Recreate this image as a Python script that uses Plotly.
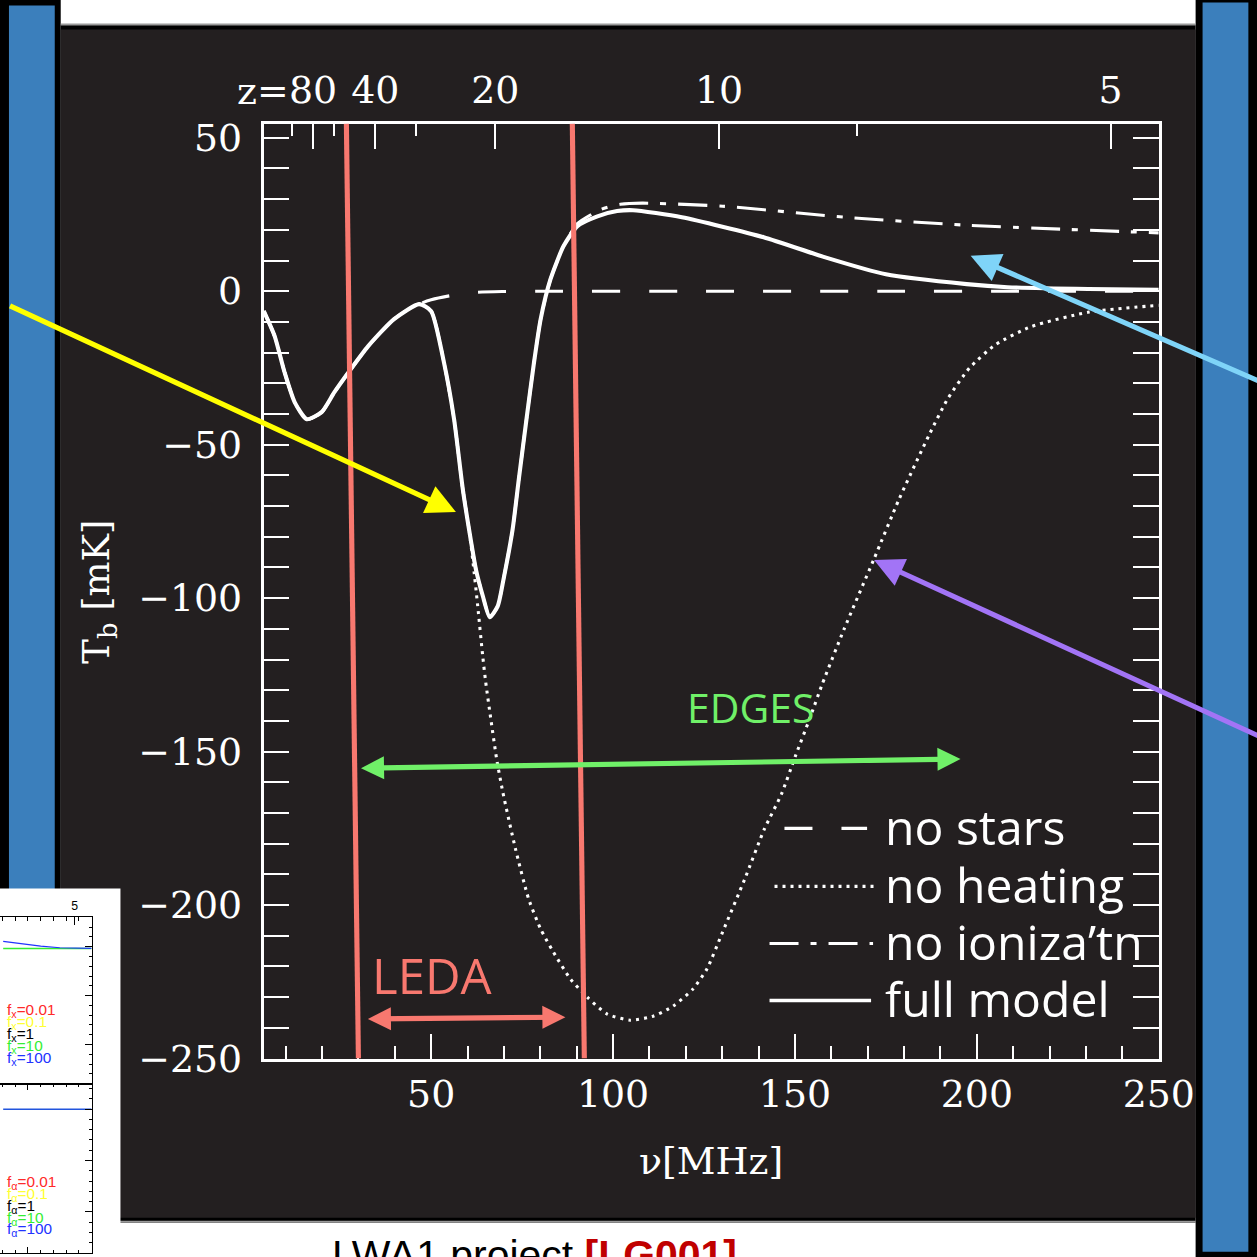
import plotly.graph_objects as go

REF = 1257              # design grid of the slide, in pixels
S = 1300                # rendered figure size
K = 1287 / REF          # scale from design grid to rendered pixels
DX, DY = 3.0, -7.5      # placement of the design grid inside the figure
NU21 = 1420.4           # rest frequency of the 21-cm line [MHz]

# ---- global 21-cm signal models: frequency [MHz] vs brightness temperature [mK]
nu_full = [4.0, 7.0, 9.7, 12.5, 15.8, 19.9, 23.4, 27.3, 32.7, 39.8, 46.7, 50.0,
           53.5, 56.3, 58.7, 60.4, 62.3, 64.2, 66.1, 68.3, 69.9, 72.4, 74.1, 76.2,
           78.2, 80.1, 82.8, 86.4, 90.2, 95.7, 101.1, 105.5, 118.9, 141.4, 158.1,
           175.0, 197.2, 208.4, 230.6, 250.0]
tb_full = [-6.5, -14.7, -26.4, -36.2, -41.7, -39.4, -32.9, -26.4, -17.9, -9.1, -4.2, -6.5,
           -23.1, -41.7, -64.5, -77.5, -90.6, -99.3, -106.2, -102.6, -93.8, -77.5, -61.2, -41.7,
           -23.8, -9.1, 3.9, 14.7, 21.2, 24.4, 26.1, 26.4, 24.1, 17.6, 11.1,
           5.5, 2.3, 1.3, 0.7, 0.5]

nu_nostars = [4.0, 7.0, 9.7, 12.5, 15.8, 19.9, 23.4, 27.3, 32.7, 39.8, 46.7, 50.0,
              54.6, 61.7, 70.0, 80.0, 120.0, 180.0, 250.0]
tb_nostars = [-6.5, -14.7, -26.4, -36.2, -41.7, -39.4, -32.9, -26.4, -17.9, -9.1, -4.2, -2.8,
              -1.6, -0.4, -0.1, 0.0, 0.0, 0.0, 0.0]

nu_noheat = [4.0, 7.0, 9.7, 12.5, 15.8, 19.9, 23.4, 27.3, 32.7, 39.8, 46.7, 50.0,
             53.5, 56.3, 58.7, 60.4, 61.5, 62.8, 64.2, 65.0, 66.4, 68.0, 69.7, 73.2,
             76.8, 80.1, 83.6, 88.3, 92.9, 98.4, 104.7, 111.0, 116.5, 121.9, 125.8,
             130.1, 136.2, 141.6, 146.3, 150.1, 154.0, 157.5, 163.5, 171.7, 178.6,
             186.8, 192.0, 198.0, 205.0, 215.0, 230.8, 250.0]
tb_noheat = [-6.5, -14.7, -26.4, -36.2, -41.7, -39.4, -32.9, -26.4, -17.9, -9.1, -4.2, -6.5,
             -23.1, -41.7, -64.5, -77.5, -88.3, -102.6, -119.2, -127.4, -139.4, -152.4, -163.2, -181.8,
             -198.0, -207.8, -215.3, -224.1, -230.0, -235.5, -237.5, -236.2, -232.9, -227.4, -220.8,
             -208.8, -191.5, -175.2, -163.8, -151.5, -139.4, -128.0, -110.1, -87.3, -67.8,
             -47.0, -35.0, -25.0, -17.5, -11.5, -6.8, -4.6]

nu_noion = [4.0, 7.0, 9.7, 12.5, 15.8, 19.9, 23.4, 27.3, 32.7, 39.8, 46.7, 50.0,
            53.5, 56.3, 58.7, 60.4, 62.3, 64.2, 66.1, 68.3, 69.9, 72.4, 74.1, 76.2,
            78.2, 80.1, 82.8, 86.4, 90.2, 96.8, 102.0, 108.0, 130.1, 163.8, 197.2, 250.0]
tb_noion = [-6.5, -14.7, -26.4, -36.2, -41.7, -39.4, -32.9, -26.4, -17.9, -9.1, -4.2, -6.5,
            -23.1, -41.7, -64.5, -77.5, -90.6, -99.3, -106.2, -102.6, -93.8, -77.5, -61.2, -41.7,
            -23.8, -9.1, 3.9, 14.7, 22.0, 26.7, 28.3, 28.7, 27.7, 24.1, 21.5, 19.0]

# ---- redshift ticks for the top axis
z_major = [80, 40, 20, 10, 5]
z_major_text = ["80", "40", "20", "10", "5"]
z_minor = [120, 60, 30, 15, 7.5]

# ---- experiment bands (MHz) and their arrows
leda_line_top = [26.7, 88.8]
leda_line_bottom = [30.0, 92.1]
edges_arrow_nu = [30.3, 195.5]
edges_arrow_tb = [-155.4, -152.4]
leda_arrow_nu = [32.2, 86.9]
leda_arrow_tb = [-237.1, -236.5]

# ---- small inset panels (parameter scans)
inset_nu = [180.5, 195.0, 210.0, 225.0, 240.0, 250.0]
inset_fx_green = [-1.8, -1.8, -1.8, -1.8, -1.8, -1.8]
inset_fx_blue = [5.5, 3.2, 0.6, -1.0, -1.5, -1.6]
inset_fa_blue = [0.0, 0.0, 0.0, 0.0, 0.0, 0.0]
fx_labels = ["0.01", "0.1", "1", "10", "100"]
fx_colors = ["#ff2a2a", "#ffff33", "#000000", "#33ee33", "#2233ff"]


def nu_of_z(zs):
    return [NU21 / (1.0 + z) for z in zs]


def px(x):
    return (x + DX) * K / S


def py(y):
    return 1 - (y + DY) * K / S


def k(v):
    return v * K


def ki(v):
    return int(round(v * K))


DARK = "#231f20"
WHITE = "#ffffff"
SALMON = "#f8786f"
GREEN = "#70f068"
BLUE_BAR = "#3b7fbc"
SERIF = "DejaVu Serif"
SANS = "Open Sans"

fig = go.Figure()

fig.add_trace(go.Scatter(x=nu_nostars, y=tb_nostars, mode="lines", name="no stars",
                         line=dict(color=WHITE, width=k(3), dash="28px,29px",
                                   shape="spline", smoothing=0.6)))
fig.add_trace(go.Scatter(x=nu_noheat, y=tb_noheat, mode="lines", name="no heating",
                         line=dict(color=WHITE, width=k(3), dash="3px,5px",
                                   shape="spline", smoothing=0.6)))
fig.add_trace(go.Scatter(x=nu_noion, y=tb_noion, mode="lines", name="no ioniza'tn",
                         line=dict(color=WHITE, width=k(3), dash="29px,12px,6px,12px",
                                   shape="spline", smoothing=0.6)))
fig.add_trace(go.Scatter(x=nu_full, y=tb_full, mode="lines", name="full model",
                         line=dict(color=WHITE, width=k(4), shape="spline", smoothing=0.6)))
# carrier for the redshift axis
fig.add_trace(go.Scatter(x=nu_of_z(z_major), y=[None] * len(z_major), xaxis="x2", yaxis="y",
                         mode="markers", hoverinfo="skip", showlegend=False))

# inset panels
fig.add_trace(go.Scatter(x=inset_nu, y=inset_fx_green, xaxis="x3", yaxis="y3", mode="lines",
                         line=dict(color="#33ee33", width=1.5), showlegend=False))
fig.add_trace(go.Scatter(x=inset_nu, y=inset_fx_blue, xaxis="x3", yaxis="y3", mode="lines",
                         line=dict(color="#2233ff", width=1.2), showlegend=False))
fig.add_trace(go.Scatter(x=inset_nu, y=inset_fa_blue, xaxis="x4", yaxis="y4", mode="lines",
                         line=dict(color="#2255dd", width=1.5), showlegend=False))

tickfont = dict(family=SERIF, size=k(37), color=WHITE)
axis_common = dict(showgrid=False, zeroline=False, tickcolor=WHITE, tickwidth=k(2),
                   linecolor=WHITE, linewidth=k(3), tickfont=tickfont)
inset_minor = dict(tick0=0, dtick=10, ticklen=k(3), ticks="inside", tickcolor="black")
inset_common = dict(showgrid=False, zeroline=False, linecolor="black", linewidth=1,
                    tickcolor="black", tickwidth=1, showline=True, ticks="inside")

fig.update_layout(
    width=S, height=S,
    margin=dict(l=0, r=0, t=0, b=0),
    paper_bgcolor=WHITE,
    plot_bgcolor="rgba(0,0,0,0)",
    showlegend=False,
    xaxis=dict(domain=[px(262), px(1161)], range=[4, 250], anchor="y",
               showline=True, mirror=True, ticks="inside", tickmode="linear",
               tick0=0, dtick=50, ticklen=k(24), ticklabelstandoff=0,
               minor=dict(tick0=0, dtick=10, ticklen=k(12), ticks="inside",
                          tickcolor=WHITE, tickwidth=k(2), showgrid=False),
               **axis_common),
    xaxis2=dict(overlaying="x", side="top", anchor="y", range=[4, 250],
                showline=False, ticks="inside", tickmode="array",
                tickvals=nu_of_z(z_major), ticktext=z_major_text, ticklen=k(25),
                ticklabelstandoff=ki(12),
                minor=dict(tickmode="array", tickvals=nu_of_z(z_minor), ticklen=k(12),
                           ticks="inside", tickcolor=WHITE, tickwidth=k(2), showgrid=False),
                **axis_common),
    yaxis=dict(domain=[py(1058), py(124)], range=[-250, 54.6], anchor="x",
               showline=True, mirror="allticks", ticks="inside", tickmode="linear",
               tick0=0, dtick=50, ticklen=k(25), ticklabelstandoff=ki(11),
               minor=dict(tick0=0, dtick=10, ticklen=k(13), ticks="inside",
                          tickcolor=WHITE, tickwidth=k(2), showgrid=False),
               **axis_common),
    xaxis3=dict(domain=[0, px(89)], range=[178.0, 250], anchor="y3", side="top", mirror=True,
                tickmode="array", tickvals=nu_of_z([5]), ticktext=["5"], ticklen=k(7),
                ticklabelstandoff=2, minor=inset_minor,
                tickfont=dict(family="Liberation Sans", size=k(12), color="black"),
                **inset_common),
    yaxis3=dict(domain=[py(1083), py(917)], range=[-140, 30], anchor="x3", side="right",
                tick0=0, dtick=50, ticklen=k(6), minor=inset_minor,
                showticklabels=False, **inset_common),
    xaxis4=dict(domain=[0, px(89)], range=[178.0, 250], anchor="y4", mirror="allticks",
                tick0=0, dtick=50, ticklen=k(6), minor=inset_minor,
                showticklabels=False, **inset_common),
    yaxis4=dict(domain=[py(1252), py(1083)], range=[-140, 25], anchor="x4", side="right",
                tick0=0, dtick=50, ticklen=k(6), minor=inset_minor,
                showticklabels=False, **inset_common),
)

# ---- slide background: dark panel, side bars, white strips
shapes = []


def rect(x0, y0, x1, y1, color, layer="below"):
    shapes.append(dict(type="rect", xref="paper", yref="paper", layer=layer,
                       x0=px(x0), x1=px(x1), y0=py(y1), y1=py(y0),
                       fillcolor=color, line=dict(width=0)))


rect(-20, -20, 58, 1300, "#000000")
rect(6, 6, 52, 1300, BLUE_BAR)
rect(1198, -20, 1300, 1300, "#000000")
rect(1205, 3, 1251, 1251, BLUE_BAR)
rect(58, 25, 1198, 1222, "#000000")
rect(58, 30, 1198, 1217, DARK)
rect(58, 24, 1198, 26, "#9a9a9a")
rect(58, 1220, 1198, 1222, "#9a9a9a")
rect(-20, 888, 118, 1300, WHITE)

# LEDA band edges
for t, b in zip(leda_line_top, leda_line_bottom):
    shapes.append(dict(type="line", xref="x", yref="y", layer="above",
                       x0=t, y0=54.6, x1=b, y1=-250, line=dict(color=SALMON, width=k(5))))

# legend samples
legend_rows = [("no stars", "28px,29px", 828, 785, 868),
               ("no heating", "3px,5px", 886, 775, 878),
               ("no ioniza’tn", "29px,12px,6px,12px", 943, 770, 874),
               ("full model", "solid", 1000, 770, 872)]
for name, dash, yrow, xa, xb in legend_rows:
    shapes.append(dict(type="line", xref="paper", yref="paper", layer="above",
                       x0=px(xa), x1=px(xb), y0=py(yrow), y1=py(yrow),
                       line=dict(color=WHITE, width=k(3.5) if dash == "solid" else k(3), dash=dash)))

fig.update_layout(shapes=shapes)


def label(x, y, text, font, xanchor="center", yanchor="middle", **kw):
    return dict(xref="paper", yref="paper", x=px(x), y=py(y), text=text,
                xanchor=xanchor, yanchor=yanchor, showarrow=False, font=font, **kw)


ann = []
# axis titles
ann.append(label(97, 592, "T<sub>b</sub> [mK]", dict(family=SERIF, size=k(36), color=WHITE),
                 textangle=-90))
ann.append(label(711, 1160, "ν[MHz]", dict(family=SERIF, size=k(37), color=WHITE)))
ann.append(label(289, 91, "z=", dict(family=SERIF, size=k(37), color=WHITE), xanchor="right"))

# legend labels
for name, dash, yrow, xa, xb in legend_rows:
    ann.append(label(884, yrow - 2, name, dict(family=SANS, size=k(47), color=WHITE),
                     xanchor="left"))

# experiment labels and arrows
ann.append(label(751, 707, "EDGES", dict(family=SANS, size=k(40), color=GREEN)))
ann.append(label(431, 974, "LEDA", dict(family=SANS, size=k(48), color=SALMON)))
ann.append(dict(xref="x", yref="y", x=edges_arrow_nu[1], y=edges_arrow_tb[1],
                axref="x", ayref="y", ax=edges_arrow_nu[0], ay=edges_arrow_tb[0],
                showarrow=True, arrowhead=2, arrowside="end+start", arrowwidth=k(5),
                arrowsize=0.9, arrowcolor=GREEN, text=""))
ann.append(dict(xref="x", yref="y", x=leda_arrow_nu[1], y=leda_arrow_tb[1],
                axref="x", ayref="y", ax=leda_arrow_nu[0], ay=leda_arrow_tb[0],
                showarrow=True, arrowhead=2, arrowside="end+start", arrowwidth=k(5),
                arrowsize=0.9, arrowcolor=SALMON, text=""))

# pointer arrows
for head, tail, col in [((455, 512), (18, 310), "#ffff00"),
                        ((972, 256), (1262, 382), "#7fd4f8"),
                        ((875, 560), (1262, 737), "#a274f6")]:
    ann.append(dict(xref="paper", yref="paper", x=px(head[0]), y=py(head[1]),
                    ax=k(tail[0] - head[0]), ay=k(tail[1] - head[1]),
                    showarrow=True, arrowhead=2, arrowwidth=k(5), arrowsize=1.15,
                    arrowcolor=col, text=""))

# inset legends
for i, (lab, col) in enumerate(zip(fx_labels, fx_colors)):
    f = dict(family="Liberation Sans", size=k(15), color=col)
    ann.append(label(2, 1010 + 12 * i, "f<sub>x</sub>=" + lab, f, xanchor="left"))
    ann.append(label(2, 1182 + 11.8 * i, "f<sub>α</sub>=" + lab, f, xanchor="left"))

# slide footer
ann.append(label(328, 1229, "LWA1 project <b><span style='color:#c00000'>[LG001]</span></b>",
                 dict(family="Liberation Sans", size=k(40), color="#000000"),
                 xanchor="left", yanchor="top"))

fig.update_layout(annotations=ann)

fig.write_html("out.html")
